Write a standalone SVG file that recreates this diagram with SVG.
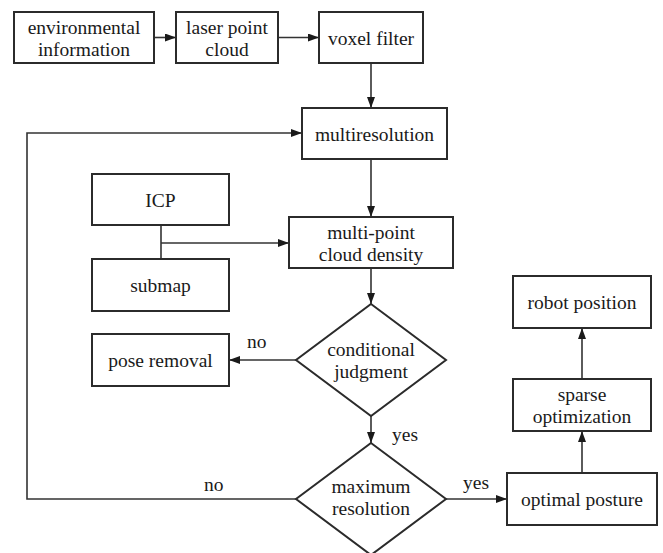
<svg xmlns="http://www.w3.org/2000/svg" width="663" height="553" viewBox="0 0 663 553">
<style>
.box{fill:#fff;stroke:#2b2b2b;stroke-width:2}
.t{font-family:'Liberation Serif','DejaVu Serif',serif;font-size:19.5px;fill:#1a1a1a;text-anchor:middle}
.lbl{font-family:'Liberation Serif','DejaVu Serif',serif;font-size:19.5px;fill:#1a1a1a}
.c{fill:none;stroke:#333;stroke-width:1.6}
</style>
<defs>
<marker id="ah" markerUnits="userSpaceOnUse" markerWidth="12" markerHeight="10" refX="11" refY="4" orient="auto">
<path d="M0,0 L11,4 L0,8 z" fill="#1a1a1a"/>
</marker>
</defs>
<rect width="663" height="553" fill="#fff"/>
<g id="connectors">
<line class="c" x1="154" y1="37.5" x2="176" y2="37.5" marker-end="url(#ah)"/>
<line class="c" x1="278" y1="37.5" x2="319" y2="37.5" marker-end="url(#ah)"/>
<line class="c" x1="371" y1="63" x2="371" y2="108" marker-end="url(#ah)"/>
<line class="c" x1="371" y1="159" x2="371" y2="217" marker-end="url(#ah)"/>
<line class="c" x1="161" y1="225" x2="161" y2="259"/>
<line class="c" x1="161" y1="243" x2="289" y2="243" marker-end="url(#ah)"/>
<line class="c" x1="371" y1="268" x2="371" y2="304" marker-end="url(#ah)"/>
<line class="c" x1="296" y1="360" x2="229" y2="360" marker-end="url(#ah)"/>
<line class="c" x1="371" y1="416" x2="371" y2="443" marker-end="url(#ah)"/>
<polyline class="c" points="296,499 27,499 27,133 302,133" marker-end="url(#ah)"/>
<line class="c" x1="446" y1="499" x2="507" y2="499" marker-end="url(#ah)"/>
<line class="c" x1="582" y1="473" x2="582" y2="431" marker-end="url(#ah)"/>
<line class="c" x1="582" y1="379" x2="582" y2="328" marker-end="url(#ah)"/>
<text class="lbl" x="247" y="348">no</text>
<text class="lbl" x="392" y="441">yes</text>
<text class="lbl" x="204" y="491">no</text>
<text class="lbl" x="463" y="489">yes</text>
</g>
<g id="env">
<rect class="box" x="14" y="12" width="140" height="51"/>
<text class="t" x="84" y="33.5">environmental</text>
<text class="t" x="84" y="55.5">information</text>
</g>
<g id="laser">
<rect class="box" x="176" y="12" width="102" height="51"/>
<text class="t" x="227" y="33.5">laser point</text>
<text class="t" x="227" y="55.5">cloud</text>
</g>
<g id="voxel">
<rect class="box" x="319" y="12" width="104" height="51"/>
<text class="t" x="371" y="44.5">voxel filter</text>
</g>
<g id="multires">
<rect class="box" x="302" y="108" width="145" height="51"/>
<text class="t" x="374.5" y="140.5">multiresolution</text>
</g>
<g id="icp">
<rect class="box" x="92" y="174" width="137" height="51"/>
<text class="t" x="160.5" y="206.5">ICP</text>
</g>
<g id="density">
<rect class="box" x="289" y="217" width="164" height="51"/>
<text class="t" x="371" y="238.5">multi-point</text>
<text class="t" x="371" y="260.5">cloud density</text>
</g>
<g id="submap">
<rect class="box" x="92" y="259" width="137" height="52"/>
<text class="t" x="160.5" y="292">submap</text>
</g>
<g id="pose">
<rect class="box" x="92" y="334" width="137" height="52"/>
<text class="t" x="160.5" y="367">pose removal</text>
</g>
<g id="cond">
<polygon class="box" points="371,304 446,360 371,416 296,360"/>
<text class="t" x="371" y="356">conditional</text>
<text class="t" x="371" y="378">judgment</text>
</g>
<g id="maxres">
<polygon class="box" points="371,443 446,499 371,555 296,499"/>
<text class="t" x="371" y="492.5">maximum</text>
<text class="t" x="371" y="514.5">resolution</text>
</g>
<g id="optimal">
<rect class="box" x="507" y="473" width="150" height="52"/>
<text class="t" x="582" y="506">optimal posture</text>
</g>
<g id="sparse">
<rect class="box" x="513" y="379" width="138" height="52"/>
<text class="t" x="582" y="401">sparse</text>
<text class="t" x="582" y="423">optimization</text>
</g>
<g id="robot">
<rect class="box" x="513" y="276" width="138" height="52"/>
<text class="t" x="582" y="309">robot position</text>
</g>
</svg>
